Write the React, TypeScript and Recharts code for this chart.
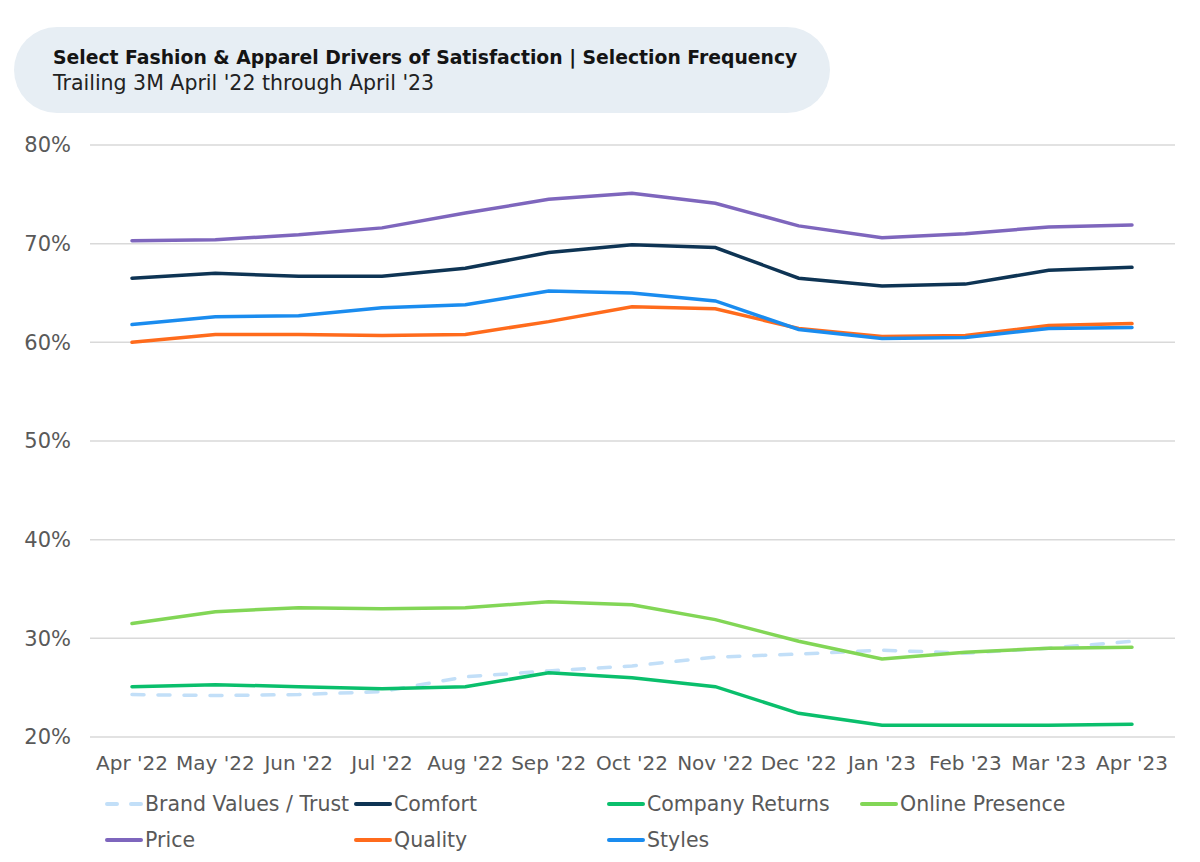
import { LineChart, Line, XAxis, YAxis, CartesianGrid } from "recharts";

const months = [
  "Apr '22", "May '22", "Jun '22", "Jul '22", "Aug '22", "Sep '22", "Oct '22",
  "Nov '22", "Dec '22", "Jan '23", "Feb '23", "Mar '23", "Apr '23",
];

// values in %
const brandValues = [24.3, 24.2, 24.3, 24.6, 26.1, 26.7, 27.2, 28.1, 28.4, 28.8, 28.5, 29.0, 29.7];
const comfort = [66.5, 67.0, 66.7, 66.7, 67.5, 69.1, 69.9, 69.6, 66.5, 65.7, 65.9, 67.3, 67.6];
const companyReturns = [25.1, 25.3, 25.1, 24.9, 25.1, 26.5, 26.0, 25.1, 22.4, 21.2, 21.2, 21.2, 21.3];
const onlinePresence = [31.5, 32.7, 33.1, 33.0, 33.1, 33.7, 33.4, 31.9, 29.7, 27.9, 28.6, 29.0, 29.1];
const price = [70.3, 70.4, 70.9, 71.6, 73.1, 74.5, 75.1, 74.1, 71.8, 70.6, 71.0, 71.7, 71.9];
const quality = [60.0, 60.8, 60.8, 60.7, 60.8, 62.1, 63.6, 63.4, 61.4, 60.6, 60.7, 61.7, 61.9];
const styles = [61.8, 62.6, 62.7, 63.5, 63.8, 65.2, 65.0, 64.2, 61.3, 60.4, 60.5, 61.4, 61.5];

const yTicks = [20, 30, 40, 50, 60, 70, 80];

const series = [
  { key: "brand", name: "Brand Values / Trust", values: brandValues, color: "#c2dff8", dashed: true },
  { key: "comfort", name: "Comfort", values: comfort, color: "#0e3454" },
  { key: "returns", name: "Company Returns", values: companyReturns, color: "#0abf6c" },
  { key: "online", name: "Online Presence", values: onlinePresence, color: "#82d656" },
  { key: "price", name: "Price", values: price, color: "#7e66bd" },
  { key: "quality", name: "Quality", values: quality, color: "#ff6b1c" },
  { key: "styles", name: "Styles", values: styles, color: "#1a8cef" },
];

const data = months.map((m, i) => {
  const row: Record<string, string | number> = { month: m };
  series.forEach((s) => (row[s.key] = s.values[i]));
  return row;
});

const FONT = "'DejaVu Sans', sans-serif";
const TEXT = "#595959";

export default function App() {
  return (
    <div style={{ position: "absolute", left: 0, top: 0, width: 1200, height: 862, background: "#fff", fontFamily: FONT }}>
      <div
        style={{
          position: "absolute",
          left: 14,
          top: 27,
          width: 816,
          height: 86,
          borderRadius: 43,
          background: "#e7eef4",
        }}
      >
        <div style={{ position: "absolute", left: 39, top: 20, fontSize: 18.8, fontWeight: 700, color: "#141414", whiteSpace: "nowrap" }}>
          Select Fashion &amp; Apparel Drivers of Satisfaction | Selection Frequency
        </div>
        <div style={{ position: "absolute", left: 39, top: 44, fontSize: 20.5, color: "#222", whiteSpace: "nowrap" }}>
          Trailing 3M April '22 through April '23
        </div>
      </div>

      <div style={{ position: "absolute", left: 0, top: 0 }}>
        <LineChart width={1200} height={790} data={data} margin={{ top: 145, right: 25, left: 0, bottom: 0 }}>
          <CartesianGrid vertical={false} stroke="#d9d9d9" strokeWidth={1.5} />
          <XAxis
            dataKey="month"
            interval={0}
            height={53}
            padding={{ left: 42, right: 43 }}
            axisLine={false}
            tickLine={false}
            tickMargin={13}
            tick={{ fill: TEXT, fontSize: 20, fontFamily: FONT }}
          />
          <YAxis
            width={90}
            domain={[20, 80]}
            ticks={yTicks}
            axisLine={false}
            tickLine={false}
            tickMargin={13}
            tickFormatter={(v) => `${v}%`}
            tick={{ fill: TEXT, fontSize: 21, fontFamily: FONT }}
          />
          {series.map((s) => (
            <Line
              key={s.key}
              dataKey={s.key}
              name={s.name}
              type="linear"
              stroke={s.color}
              strokeWidth={3.5}
              strokeDasharray={s.dashed ? "12 14" : undefined}
              strokeLinecap="round"
              dot={false}
              activeDot={false}
              isAnimationActive={false}
            />
          ))}
        </LineChart>
      </div>

      <div
        style={{
          position: "absolute",
          left: 105,
          top: 786,
          display: "grid",
          gridTemplateColumns: "249px 253px 253px 253px",
          gridAutoRows: "36px",
        }}
      >
        {series.map((s) => (
          <div key={s.key} style={{ display: "flex", alignItems: "center", whiteSpace: "nowrap" }}>
            <svg width={40} height={6} style={{ marginRight: 0 }}>
              <line
                x1={2}
                y1={3}
                x2={36}
                y2={3}
                stroke={s.color}
                strokeWidth={4}
                strokeLinecap="round"
                strokeDasharray={s.dashed ? "10 14" : undefined}
              />
            </svg>
            <span style={{ fontSize: 20.5, color: TEXT }}>{s.name}</span>
          </div>
        ))}
      </div>
    </div>
  );
}
